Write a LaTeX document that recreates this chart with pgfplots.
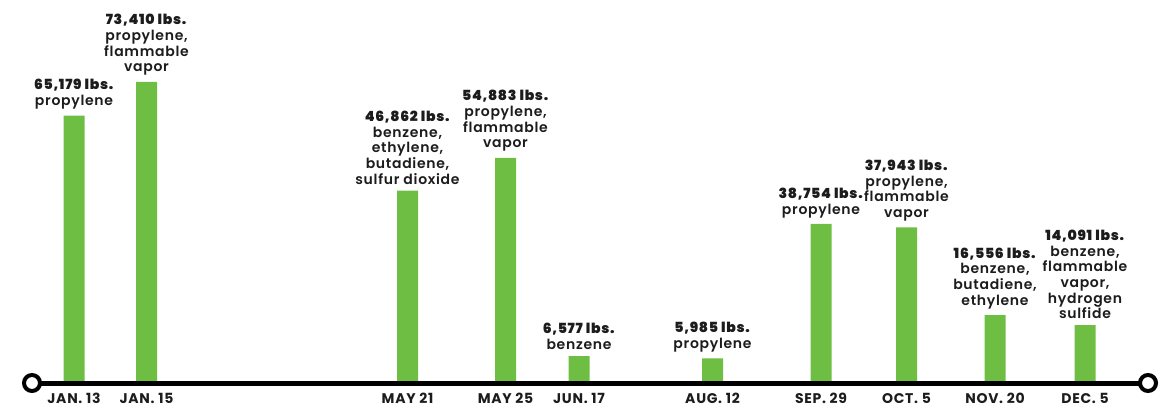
\documentclass[border=0pt]{standalone}
\usepackage{pgfplots}
\pgfplotsset{compat=1.18}
\usepackage{fontspec}
\setmainfont{Poppins}[LetterSpace=5]
\newfontfamily\semib{Poppins SemiBold}[LetterSpace=5]
\definecolor{bargreen}{RGB}{110,190,68}
\definecolor{ink}{RGB}{28,28,28}
\begin{document}
\begin{tikzpicture}
\useasboundingbox (0,0) rectangle (1166pt,407pt);
\begin{axis}[
    scale only axis,
    width=1166pt, height=407pt,
    xmin=0, xmax=1166,
    ymin=-5849, ymax=93337,
    axis x line=middle, axis y line=none,
    x axis line style={draw=none,-},
    major tick length=0pt,
    xtick={74,146.5,407.5,505.5,579,712.5,821,906.5,995,1085},
    xticklabels={JAN. 13,JAN. 15,MAY 21,MAY 25,JUN. 17,AUG. 12,SEP. 29,OCT. 5,NOV. 20,DEC. 5},
    xticklabel style={font=\fontsize{14}{15}\selectfont\bfseries, text=ink, anchor=north, inner sep=0pt, yshift=-10pt},
    clip=false,
]
\addplot[ybar, bar width=21pt, fill=bargreen, draw=none,
    point meta=explicit symbolic,
    nodes near coords,
    every node near coord/.style={anchor=south, inner sep=0pt, yshift=6pt, align=center, text=ink,
        font=\fontsize{14}{15.7}\selectfont\semib}]
coordinates {
    (74,65179)    [{\textbf{65,179 lbs.}\\propylene}]
    (146.5,73410) [{\textbf{73,410 lbs.}\\propylene,\\flammable\\vapor}]
    (407.5,46862) [{\textbf{46,862 lbs.}\\benzene,\\ethylene,\\butadiene,\\sulfur dioxide}]
    (505.5,54883) [{\textbf{54,883 lbs.}\\propylene,\\flammable\\vapor}]
    (579,6577)    [{\textbf{6,577 lbs.}\\benzene}]
    (712.5,5985)  [{\textbf{5,985 lbs.}\\propylene}]
    (821,38754)   [{\textbf{38,754 lbs.}\\propylene}]
    (906.5,37943) [{\textbf{37,943 lbs.}\\propylene,\\flammable\\vapor}]
    (995,16556)   [{\textbf{16,556 lbs.}\\benzene,\\butadiene,\\ethylene}]
    (1085,14091)  [{\textbf{14,091 lbs.}\\benzene,\\flammable\\vapor,\\hydrogen\\sulfide}]
};
% timeline with open circles at both ends
\addplot[black, line width=5pt, mark=*, mark size=8pt,
    mark options={fill=white, draw=black, line width=4pt}]
coordinates {(32,0) (1148,0)};
\end{axis}
\end{tikzpicture}
\end{document}
